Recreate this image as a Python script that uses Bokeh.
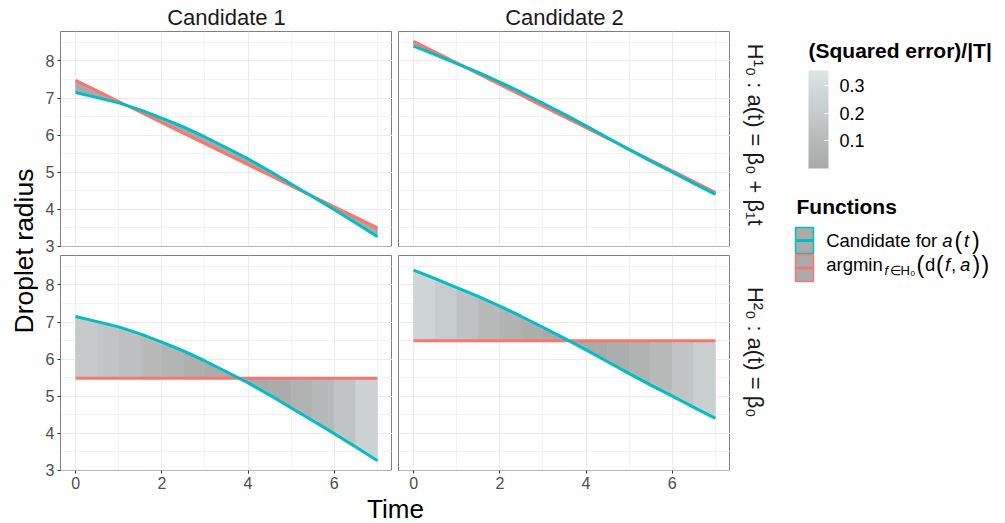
import math
import numpy as np
from bokeh.plotting import figure
from bokeh.models import (Range1d, FixedTicker, Grid, LinearAxis, Label, ColorBar,
                          LinearColorMapper, ColumnDataSource, Spacer)
from bokeh.layouts import row, column
from bokeh.embed import file_html
from bokeh.resources import INLINE

# ---------------- data ----------------
time = [0.0, 0.5, 1.0, 1.5, 2.0, 2.5, 3.0, 3.5, 4.0, 4.5, 5.0, 5.5, 6.0, 6.5, 7.0]
candidate_1 = [7.15, 7.01, 6.87, 6.68, 6.46, 6.22, 5.95, 5.66, 5.36, 5.03, 4.68, 4.34, 3.99, 3.63, 3.26]
candidate_2 = [8.40, 8.17, 7.93, 7.69, 7.43, 7.15, 6.86, 6.56, 6.25, 5.93, 5.61, 5.30, 5.00, 4.70, 4.40]
candidate_labels = ["Candidate 1", "Candidate 2"]
hypothesis_labels = ["H¹₀ : a(t) = β₀ + β₁t", "H²₀ : a(t) = β₀"]
hypothesis_degree = [1, 0]          # H0^1: linear, H0^2: constant
x_ticks = [0, 2, 4, 6]
y_ticks = [3, 4, 5, 6, 7, 8]
colorbar_ticks = [0.1, 0.2, 0.3]
legend_colors = ["#00BFC4", "#F8766D"]   # candidate, argmin

# ---------------- styling ----------------
FONT = "Liberation Sans"
CYAN, RED = legend_colors
GRID = "#ebebeb"
FILL_LOW = "#a9a9a9"
FILL_HIGH = "#dce4e4"
KEY_GREY = "#ababab"

t = np.array(time)
cands = [np.array(candidate_1), np.array(candidate_2)]
dt = t[1] - t[0]
T_len = t[-1] - t[0]

# fits (least-squares projection onto each null hypothesis) and errors
fits, errs = {}, {}
for hi, deg in enumerate(hypothesis_degree):
    for ci, c in enumerate(cands):
        f = np.polyval(np.polyfit(t, c, deg), t)
        fits[(hi, ci)] = f
        errs[(hi, ci)] = (c - f) ** 2 * dt / T_len

all_err = np.concatenate(list(errs.values()))
all_y = np.concatenate(cands + list(fits.values()))


def hex2rgb(h):
    return [int(h[i:i + 2], 16) for i in (1, 3, 5)]


lo_rgb, hi_rgb = hex2rgb(FILL_LOW), hex2rgb(FILL_HIGH)
palette = []
for k in range(256):
    a = k / 255
    palette.append("#%02x%02x%02x" % tuple(int(round(lo_rgb[j] + a * (hi_rgb[j] - lo_rgb[j]))) for j in range(3)))
mapper = LinearColorMapper(palette=palette, low=float(all_err.min()), high=float(all_err.max()))

xpad = 0.05 * (t[-1] - t[0])
ypad = 0.05 * (all_y.max() - all_y.min())
xr = Range1d(t[0] - xpad, t[-1] + xpad)
yr = Range1d(all_y.min() - ypad, all_y.max() + ypad)

xstep = x_ticks[1] - x_ticks[0]
ystep = y_ticks[1] - y_ticks[0]
x_minor = list(np.arange(x_ticks[0] - xstep / 2, x_ticks[-1] + xstep, xstep))
y_minor = list(np.arange(y_ticks[0] - ystep / 2, y_ticks[-1] + ystep, ystep))


def strip_grids(p):
    p.center = [r for r in p.center if not isinstance(r, Grid)]


def panel(hi, ci, fw, fh, mb_left, mb_bottom, show_y, show_x):
    p = figure(width=mb_left + fw, height=fh + mb_bottom, x_range=xr, y_range=yr,
               output_backend="svg", toolbar_location=None,
               x_axis_location=None, y_axis_location=None,
               min_border_left=mb_left, min_border_right=0, min_border_top=0,
               min_border_bottom=mb_bottom, background_fill_color="white",
               border_fill_color="white", outline_line_color="#7f7f7f", outline_line_width=1)
    strip_grids(p)
    p.add_layout(Grid(dimension=0, ticker=FixedTicker(ticks=x_ticks, minor_ticks=x_minor),
                      grid_line_color=GRID, grid_line_width=1.1,
                      minor_grid_line_color=GRID, minor_grid_line_width=0.6))
    p.add_layout(Grid(dimension=1, ticker=FixedTicker(ticks=y_ticks, minor_ticks=y_minor),
                      grid_line_color=GRID, grid_line_width=1.1,
                      minor_grid_line_color=GRID, minor_grid_line_width=0.6))
    axis_kw = dict(axis_line_color=None, major_tick_line_color="#333333", major_tick_in=0,
                   major_tick_out=3, minor_tick_line_color=None, major_label_text_font=FONT,
                   major_label_text_font_size="16px", major_label_text_color="#4d4d4d",
                   major_label_standoff=3)
    if show_y:
        p.add_layout(LinearAxis(ticker=FixedTicker(ticks=y_ticks), **axis_kw), "left")
    if show_x:
        p.add_layout(LinearAxis(ticker=FixedTicker(ticks=x_ticks), **axis_kw), "below")

    c = cands[ci]
    f = fits[(hi, ci)]
    e = errs[(hi, ci)]
    xs, ys, ee = [], [], []
    for i in range(len(t) - 1):
        xs.append([t[i], t[i + 1], t[i + 1], t[i]])
        ys.append([c[i], c[i + 1], f[i + 1], f[i]])
        ee.append(e[i])
    src = ColumnDataSource(dict(xs=xs, ys=ys, err=ee))
    p.patches("xs", "ys", source=src, fill_color={"field": "err", "transform": mapper},
              line_color={"field": "err", "transform": mapper}, line_width=0.6)
    p.line(t, f, line_color=RED, line_width=3)
    p.line(t, c, line_color=CYAN, line_width=3)
    return p


def text_fig(w, h):
    f = figure(width=w, height=h, x_range=Range1d(0, w), y_range=Range1d(h, 0),
               output_backend="svg", toolbar_location=None, x_axis_location=None,
               y_axis_location=None, min_border=0, outline_line_color=None,
               background_fill_color="white", border_fill_color="white")
    strip_grids(f)
    return f


def put(fig, x, y, text, size, style="normal", align="left", angle=0.0, color="black"):
    # y is the vertical middle of the text
    fig.add_layout(Label(x=x, y=y, text=text, text_font=FONT, text_font_size=f"{size}px",
                         text_font_style=style, text_align=align, text_baseline="middle",
                         angle=angle, text_color=color))


# ---------------- layout geometry (page pixels) ----------------
W, H = 1005, 523
YT_W = 38          # y-title column
LEFT_B = 22        # tick-label border of left panels
FW, FH = 332, 215  # panel frame size
GAP = 6
RS_W = 62          # right strip column
TOP_H = 31
ROW1_B = 9
ROW2_B = 24
XT_H = H - TOP_H - (FH + ROW1_B) - (FH + ROW2_B)
LEG_W = W - YT_W - (LEFT_B + FW) - (GAP + FW) - RS_W

tl = panel(0, 0, FW, FH, LEFT_B, ROW1_B, True, False)
tr = panel(0, 1, FW, FH, GAP, ROW1_B, False, False)
bl = panel(1, 0, FW, FH, LEFT_B, ROW2_B, True, True)
br = panel(1, 1, FW, FH, GAP, ROW2_B, False, True)

s1 = text_fig(FW, TOP_H)
put(s1, FW / 2, 16.8, candidate_labels[0], 22, align="center", color="#1a1a1a")
s2 = text_fig(FW, TOP_H)
put(s2, FW / 2, 16.8, candidate_labels[1], 22, align="center", color="#1a1a1a")

rs1 = text_fig(RS_W, FH + ROW1_B)
put(rs1, 25, FH / 2, hypothesis_labels[0], 22, align="center",
    angle=-math.pi / 2, color="#1a1a1a")
rs2 = text_fig(RS_W, FH + ROW2_B)
put(rs2, 25, FH / 2, hypothesis_labels[1], 22, align="center",
    angle=-math.pi / 2, color="#1a1a1a")

yt = text_fig(YT_W, H)
put(yt, 23, 250.5, "Droplet radius", 26.5, align="center", angle=math.pi / 2)

xt_w = LEFT_B + FW + GAP + FW + RS_W
xt = text_fig(xt_w, XT_H)
put(xt, 395 - YT_W, XT_H / 2, "Time", 26, align="center")

# ---------------- legend column ----------------
lf = text_fig(LEG_W, H)
put(lf, 16, 49.5, "(Squared error)/|T|", 21, style="bold")
cb = ColorBar(color_mapper=mapper, ticker=FixedTicker(ticks=colorbar_ticks),
              location=(16, H - 168), orientation="vertical", width=20, height=98,
              padding=0, margin=0, title=None,
              major_label_text_font=FONT, major_label_text_font_size="18px",
              major_label_text_color="black", label_standoff=11,
              major_tick_line_color="white", major_tick_in=4, major_tick_out=0,
              minor_tick_line_color=None, bar_line_color=None, border_line_color=None,
              background_fill_color=None)
lf.add_layout(cb)

put(lf, 4, 205.7, "Functions", 21, style="bold")
key_top = [227, 254]
key_bottom = [253, 281]
lf.quad(left=[3, 3], right=[21, 21], top=key_top, bottom=key_bottom,
        fill_color=KEY_GREY, line_color=legend_colors, line_width=1.5)
key_mid = [(a + b) / 2 for a, b in zip(key_top, key_bottom)]
lf.segment(x0=[3.8, 3.8], x1=[20.2, 20.2], y0=key_mid, y1=key_mid,
           line_color=legend_colors, line_width=3)

# "Candidate for a(t)"
Y1 = 240.2
put(lf, 33.7, Y1, "Candidate for", 18.5)
put(lf, 149.7, Y1, "a", 18.5, style="italic")
put(lf, 162, Y1 + 0.5, "(", 23)
put(lf, 171.5, Y1, "t", 18.5, style="italic")
put(lf, 179.5, Y1 + 0.5, ")", 23)
# "argmin_{f in H0}(d(f, a))"
Y2 = 263.5
put(lf, 33.7, Y2, "argmin", 18.5)
put(lf, 92, Y2 + 6.5, "f", 13, style="italic")
put(lf, 97, Y2 + 6.5, "∈H₀", 13)
put(lf, 124, Y2 + 0.5, "(", 23)
put(lf, 132.5, Y2, "d", 18.5)
put(lf, 143.5, Y2 + 0.5, "(", 23)
put(lf, 152.5, Y2, "f", 18.5, style="italic")
put(lf, 158.5, Y2, ",", 18.5)
put(lf, 167.5, Y2, "a", 18.5, style="italic")
put(lf, 180, Y2 + 0.5, ")", 23)
put(lf, 189, Y2 + 0.5, ")", 23)

strip_row = row(Spacer(width=LEFT_B, height=TOP_H), s1, Spacer(width=GAP, height=TOP_H), s2,
                Spacer(width=RS_W, height=TOP_H))
center = column(strip_row, row(tl, tr, rs1), row(bl, br, rs2), xt)
root = row(yt, center, lf)

open("out.html", "w").write(file_html(root, INLINE))
